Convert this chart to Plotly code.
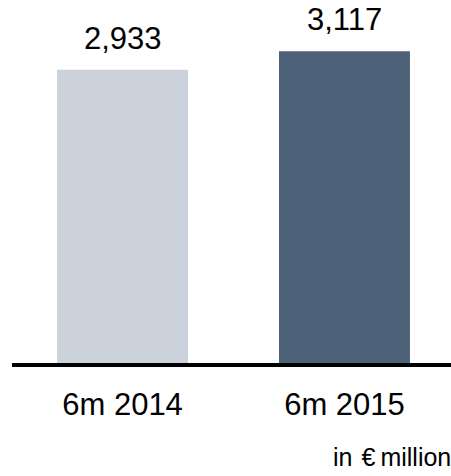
import plotly.graph_objects as go

categories = ["6m 2014", "6m 2015"]
values = [2933, 3117]
value_labels = ["2,933", "3,117"]
bar_colors = ["#CBD2DB", "#4D6178"]
unit_note = "in \u200a€\u2009million"

FONT = "Liberation Sans, Arial, sans-serif"

fig = go.Figure()
fig.add_trace(go.Bar(
    x=categories, y=values,
    marker=dict(color=bar_colors, line=dict(width=0)),
    width=0.59,
    hoverinfo="skip",
))

for c, v, t in zip(categories, values, value_labels):
    fig.add_annotation(
        x=c, y=v, text=t, showarrow=False,
        xref="x", yref="y", yanchor="bottom", yshift=12,
        font=dict(family=FONT, size=31, color="#000000"),
    )

fig.add_annotation(
    x=1, y=0, xref="paper", yref="paper", xanchor="right", yanchor="top",
    xshift=2, yshift=-78,
    text=unit_note, showarrow=False,
    font=dict(family=FONT, size=25, color="#000000"),
)

fig.update_layout(
    width=451, height=476,
    margin=dict(l=12, r=0, t=0, b=113),
    paper_bgcolor="white", plot_bgcolor="white",
    showlegend=False,
    xaxis=dict(
        type="category",
        range=[-0.498, 1.48],
        showline=True, linecolor="#000000", linewidth=4,
        ticks="outside", ticklen=11, tickcolor="rgba(0,0,0,0)",
        tickfont=dict(family=FONT, size=31, color="#000000"),
        showgrid=False, zeroline=False,
    ),
    yaxis=dict(
        range=[0, 3630], visible=False, showgrid=False, zeroline=False,
    ),
)

fig.write_html(
    "out.html",
    config={"displayModeBar": False, "staticPlot": True},
    post_script="document.body.style.margin='0px';document.body.style.overflow='hidden';",
)
